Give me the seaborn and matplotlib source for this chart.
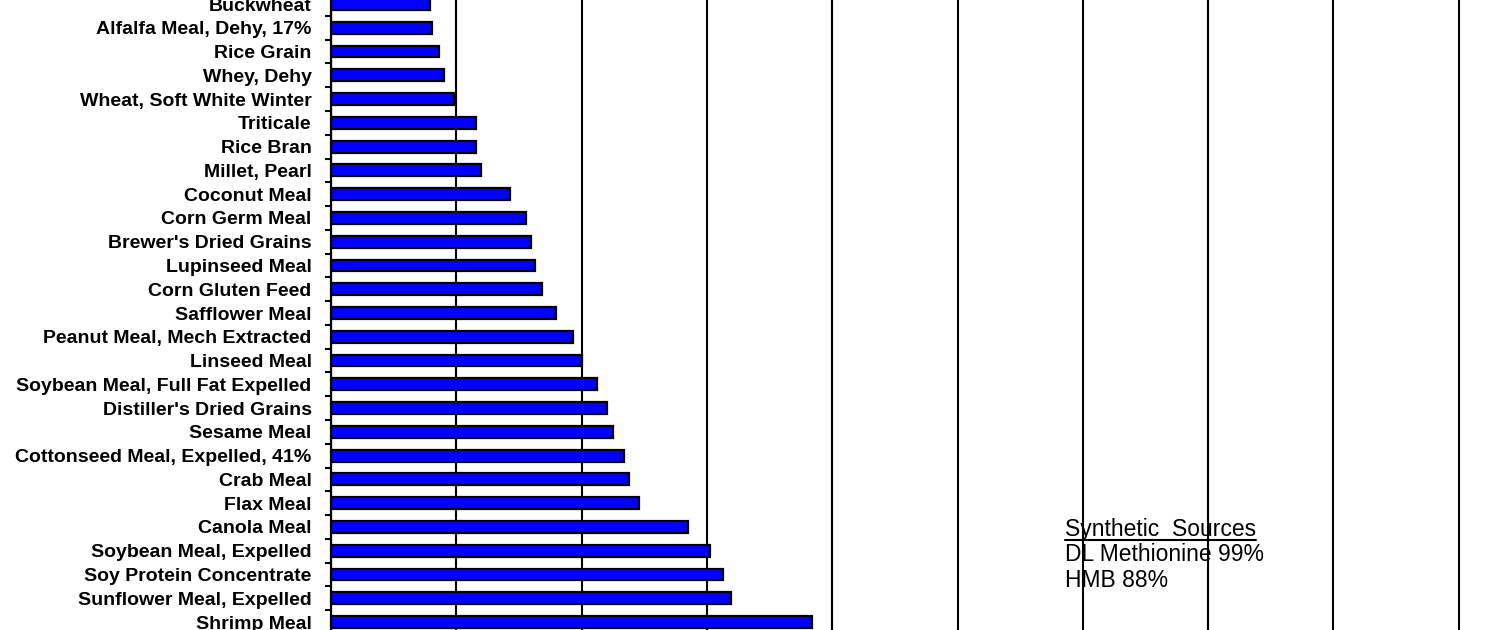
import matplotlib
matplotlib.use("Agg")
import matplotlib.pyplot as plt
import seaborn as sns
import pandas as pd
from matplotlib.ticker import MultipleLocator, FixedLocator
from matplotlib.lines import Line2D

ingredients = [
    "Buckwheat", "Alfalfa Meal, Dehy, 17%", "Rice Grain", "Whey, Dehy",
    "Wheat, Soft White Winter", "Triticale", "Rice Bran", "Millet, Pearl",
    "Coconut Meal", "Corn Germ Meal", "Brewer's Dried Grains", "Lupinseed Meal",
    "Corn Gluten Feed", "Safflower Meal", "Peanut Meal, Mech Extracted",
    "Linseed Meal", "Soybean Meal, Full Fat Expelled", "Distiller's Dried Grains",
    "Sesame Meal", "Cottonseed Meal, Expelled, 41%", "Crab Meal", "Flax Meal",
    "Canola Meal", "Soybean Meal, Expelled", "Soy Protein Concentrate",
    "Sunflower Meal, Expelled", "Shrimp Meal",
]
methionine = [
    0.198, 0.202, 0.215, 0.225, 0.246, 0.289, 0.289, 0.299,
    0.357, 0.389, 0.399, 0.407, 0.421, 0.449, 0.482,
    0.500, 0.530, 0.551, 0.563, 0.585, 0.595, 0.615,
    0.713, 0.757, 0.783, 0.799, 0.960,
]
synthetic_title = "Synthetic  Sources"
synthetic_lines = ["DL Methionine 99%", "HMB 88%"]

df = pd.DataFrame({"ingredient": ingredients, "methionine": methionine})

sns.set_theme(style="white")
plt.rcParams["font.family"] = ["Liberation Sans", "DejaVu Sans"]

W, H = 1500, 630
fig = plt.figure(figsize=(W / 100, H / 100), dpi=100)
fig.patch.set_facecolor("white")

step = 0.25
px_per_step = 125.3
xmax = 2.4
row_px = 23.77
left_px = 331
first_center_px = 4
ax_w = xmax / step * px_per_step
ax_h = len(ingredients) * row_px
top_px = first_center_px - row_px / 2
ax = fig.add_axes([left_px / W, (H - top_px - ax_h) / H, ax_w / W, ax_h / H])
ax.set_facecolor("white")

sns.barplot(data=df, x="methionine", y="ingredient", orient="h", ax=ax,
            color="#0000FF", saturation=1, width=0.5,
            edgecolor="black", linewidth=1.6)

ax.set_xlim(0, xmax)
ax.set_ylim(len(ingredients) - 0.5, -0.5)
ax.xaxis.set_major_locator(MultipleLocator(step))
ax.set_axisbelow(True)
ax.grid(axis="x", color="black", linewidth=1.5)
ax.grid(axis="y", visible=False)
ax.set_xlabel("")
ax.set_ylabel("")
ax.tick_params(axis="x", length=0, labelbottom=False)
ax.tick_params(axis="y", which="major", length=0, pad=14, labelsize=14,
               labelcolor="black")
for lab in ax.get_yticklabels():
    lab.set_fontweight("bold")
ax.yaxis.set_minor_locator(FixedLocator([i + 0.5 for i in range(-1, len(ingredients))]))
ax.tick_params(axis="y", which="minor", left=True, length=4, width=1.5,
               color="black", direction="out")
for s in ["top", "right", "bottom"]:
    ax.spines[s].set_visible(False)
ax.spines["left"].set_color("black")
ax.spines["left"].set_linewidth(1.6)

tx = 1065 / W
fs = 16.5
t = fig.text(tx, (H - 536) / H, synthetic_title, fontsize=fs, color="black",
             ha="left", va="baseline")
fig.text(tx, (H - 561) / H, synthetic_lines[0], fontsize=fs, color="black",
         ha="left", va="baseline")
fig.text(tx, (H - 587) / H, synthetic_lines[1], fontsize=fs, color="black",
         ha="left", va="baseline")

fig.canvas.draw()
bb = t.get_window_extent()
uy = H - 540
fig.add_artist(Line2D([bb.x0, bb.x1], [uy, uy], transform=None,
                      color="black", linewidth=1.5))

fig.savefig("out.png", dpi=100, facecolor="white")
